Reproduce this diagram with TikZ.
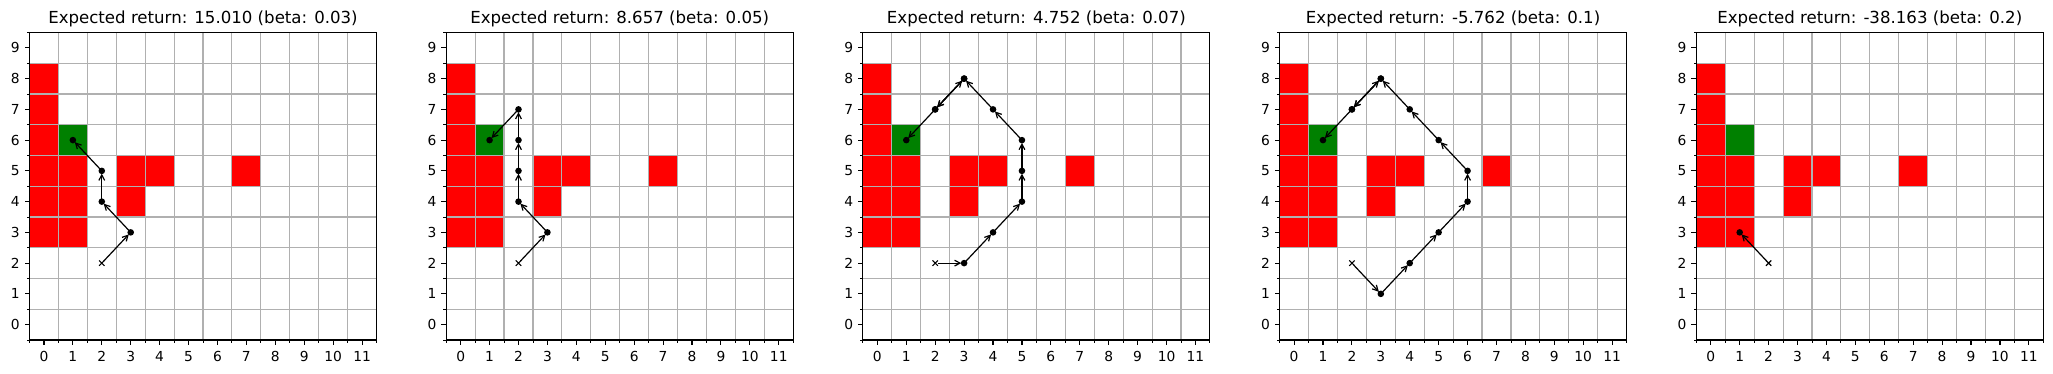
\documentclass[tikz,border=0pt]{standalone}
\usepackage{fontspec}
\setmainfont{DejaVu Sans}
\usetikzlibrary{arrows.meta}
\definecolor{gridgray}{HTML}{B0B0B0}
\definecolor{mplgreen}{HTML}{008000}
\definecolor{cellrededge}{HTML}{F2B8B8}
\newcommand{\tickfont}{\fontsize{13.8}{16}\selectfont}
\newcommand{\titlefont}{\fontsize{16.6}{20}\selectfont}
\tikzset{
  arr/.style={-{Straight Barb[length=5.5pt,width=5.8pt]}, line width=1.2pt, shorten >=2.8pt, shorten <=2.8pt},
  badcell/.style={fill=red, draw=cellrededge, line width=0.9pt},
  goalcell/.style={fill=mplgreen, draw=mplgreen!40, line width=0.9pt},
  gridline/.style={draw=gridgray, line width=1.1pt},
  spine/.style={draw=black, line width=1.1pt},
  majortick/.style={draw=black, line width=1.1pt},
  minortick/.style={draw=black, line width=0.85pt},
  ticklabel/.style={font=\tickfont, inner sep=0pt},
  titlelabel/.style={font=\titlefont, inner sep=0pt, anchor=base},
}
% one panel: #1 = origin x (pt), #2 = panel id, #3 = title, #4 = trajectory list, #5 = number of points
\newcommand{\gridpanel}[5]{%
\begin{scope}[xshift=#1pt, yshift=49.375pt, x=28.917pt, y=30.75pt]
  \node[titlelabel] (title#2) at (5.5,9.5) [yshift=9.2pt] {#3};
  % cells
  \foreach \cx/\cy in {0/3,0/4,0/5,0/6,0/7,0/8,1/3,1/4,1/5,3/4,3/5,4/5,7/5}
    \path[badcell] (\cx-0.5,\cy-0.5) rectangle (\cx+0.5,\cy+0.5);
  \path[goalcell] (0.5,5.5) rectangle (1.5,6.5);
  % grid
  \foreach \gx in {0.5,1.5,...,10.5} \draw[gridline] (\gx,-0.5) -- (\gx,9.5);
  \foreach \gy in {0.5,1.5,...,8.5} \draw[gridline] (-0.5,\gy) -- (11.5,\gy);
  % spine
  \draw[spine] (-0.5,-0.5) rectangle (11.5,9.5);
  % ticks
  \foreach \tx in {0,...,11} {
    \draw[majortick] (\tx,-0.5) -- ++(0,-4.9pt);
    \node[ticklabel, anchor=north] (xl#2-\tx) at (\tx,-0.5) [yshift=-11.4pt] {\tx};
  }
  \foreach \tx in {-0.5,0.5,...,11.5} \draw[minortick] (\tx,-0.5) -- ++(0,-2.8pt);
  \foreach \ty in {0,...,9} {
    \draw[majortick] (-0.5,\ty) -- ++(-4.9pt,0);
    \node[ticklabel, anchor=east] (yl#2-\ty) at (-0.5,\ty) [xshift=-9.6pt] {\ty};
  }
  \foreach \ty in {-0.5,0.5,...,9.5} \draw[minortick] (-0.5,\ty) -- ++(-2.8pt,0);
  % trajectory
  \foreach \px/\py [count=\k] in {#4} \coordinate (P#2-\k) at (\px,\py);
  \foreach \k [remember=\k as \j (initially 1)] in {2,...,#5}
    \draw[arr] (P#2-\j) -- (P#2-\k);
  \foreach \k in {2,...,#5} \fill (P#2-\k) circle[radius=3.3pt];
  \draw[line width=1.1pt] (P#2-1) ++(-2.7pt,-2.7pt) -- ++(5.4pt,5.4pt) (P#2-1) ++(-2.7pt,2.7pt) -- ++(5.4pt,-5.4pt);
\end{scope}}
\begin{document}
\begin{tikzpicture}[x=1pt,y=1pt]
\useasboundingbox (0,0) rectangle (2053,374);
\gridpanel{43.96}{a}{Expected return: 15.010 (beta: 0.03)}{2/2,3/3,2/4,2/5,1/6}{5}
\gridpanel{460.66}{b}{Expected return: 8.657 (beta: 0.05)}{2/2,3/3,2/4,2/5,2/6,2/7,1/6}{7}
\gridpanel{877.36}{c}{Expected return: 4.752 (beta: 0.07)}{2/2,3/2,4/3,5/4,5/5,5/6,4/7,3/8,2/7,3/8,2/7,1/6}{12}
\gridpanel{1294.06}{d}{Expected return: -5.762 (beta: 0.1)}{2/2,3/1,4/2,5/3,6/4,6/5,5/6,4/7,3/8,2/7,3/8,2/7,1/6}{13}
\gridpanel{1710.76}{e}{Expected return: -38.163 (beta: 0.2)}{2/2,1/3}{2}
\end{tikzpicture}
\end{document}
